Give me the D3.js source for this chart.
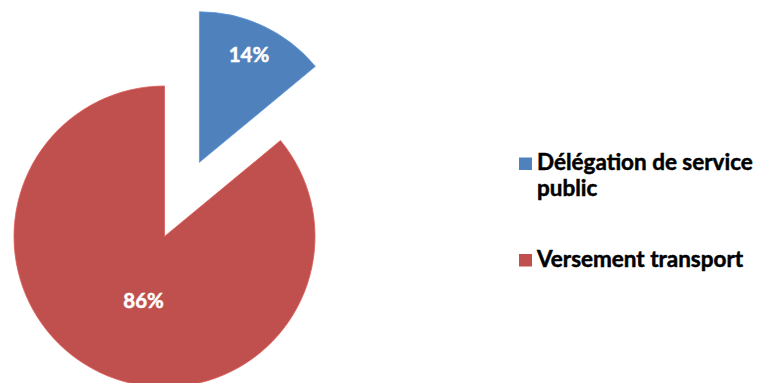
<!DOCTYPE html>
<html>
<head>
<meta charset="utf-8">
<script src="https://cdn.jsdelivr.net/npm/d3@7"></script>
<style>
  html, body { margin: 0; padding: 0; background: #fff; }
  svg { display: block; }
  text { font-family: Lato, "Open Sans", sans-serif; font-weight: 700; }
</style>
</head>
<body>
<svg id="chart" width="758" height="383"></svg>
<script>
// Répartition du financement
const categories = ["Délégation de service public", "Versement transport"];
const shares = [14, 86];
const pctLabels = ["14%", "86%"];
const legendLines = [["Délégation de service", "public"], ["Versement transport"]];
const colors = ["#4F81BD", "#C0504D"];

const W = 758, H = 383;
const svg = d3.select("#chart");

const cx = 164.5, cy = 236.5, radius = 150.5;
const explodeIdx = 0, explodeDist = 82;

// font sizing: pick a size so that a sample string spans a given width
function fitSize(sample, width, base) {
  const t = svg.append("text").style("font-size", base + "px").text(sample);
  const w = t.node().getComputedTextLength();
  t.remove();
  return base * width / w;
}
const legendSize = (fitSize("Versement transport", 210, 20) +
                    fitSize("Délégation de service", 212, 20)) / 2;
const labelSize = fitSize("14%", 40.5, 20);

const pie = d3.pie().sort(null).value(d => d)(shares);
const arc = d3.arc().innerRadius(0).outerRadius(radius);

// label placement: fraction of radius and angular nudge per slice
const labelR = [0.79, 0.45];
const labelNudge = [-0.01, -0.125];

const color = d3.scaleOrdinal().domain(categories).range(colors);

const g = svg.append("g").attr("transform", `translate(${cx},${cy})`);

const slices = g.selectAll("g.slice")
  .data(pie)
  .join("g")
  .attr("class", "slice")
  .attr("transform", (d, i) => {
    if (i !== explodeIdx) return null;
    const a = (d.startAngle + d.endAngle) / 2;
    return `translate(${Math.sin(a) * explodeDist},${-Math.cos(a) * explodeDist})`;
  });

slices.append("path")
  .attr("d", arc)
  .attr("fill", (d, i) => color(categories[i]))
  .attr("stroke", (d, i) => d3.color(color(categories[i])).brighter(0.4))
  .attr("stroke-width", 0.8);

slices.append("text")
  .attr("transform", (d, i) => {
    const a = (d.startAngle + d.endAngle) / 2 + labelNudge[i];
    const r = radius * labelR[i];
    return `translate(${Math.sin(a) * r},${-Math.cos(a) * r})`;
  })
  .attr("text-anchor", "middle")
  .attr("dy", "0.36em")
  .attr("fill", "#fff")
  .attr("stroke", "#fff")
  .attr("stroke-width", 0.5)
  .style("font-size", labelSize + "px")
  .text((d, i) => pctLabels[i]);

// legend
const legendY = d3.scaleOrdinal().domain(categories).range([170, 266.5]);
const legend = svg.append("g").attr("transform", "translate(519,0)");
const items = legend.selectAll("g.item")
  .data(categories)
  .join("g")
  .attr("class", "item")
  .attr("transform", d => `translate(0,${legendY(d)})`);

items.append("rect")
  .attr("x", 0).attr("y", -12.5)
  .attr("width", 13).attr("height", 12.5)
  .attr("fill", d => color(d));

items.append("text")
  .attr("x", 18)
  .attr("fill", "#000")
  .attr("stroke", "#000")
  .attr("stroke-width", 0.5)
  .style("font-size", legendSize + "px")
  .selectAll("tspan")
  .data((d, i) => legendLines[i])
  .join("tspan")
  .attr("x", 18)
  .attr("dy", (t, j) => j === 0 ? 0 : 25.5)
  .text(t => t);
</script>
</body>
</html>
